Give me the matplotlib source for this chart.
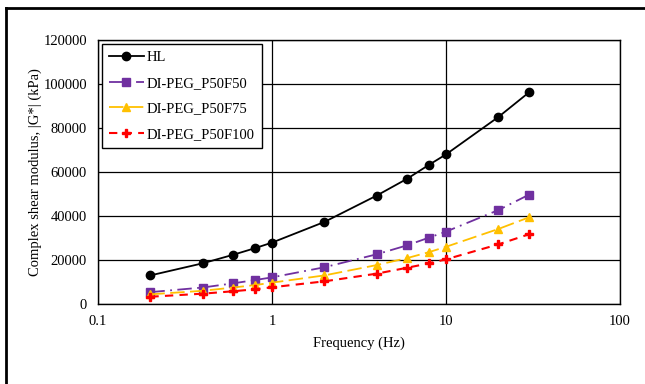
import matplotlib
matplotlib.use("Agg")
import matplotlib.pyplot as plt
from matplotlib.lines import Line2D

freq = [0.2, 0.4, 0.6, 0.8, 1, 2, 4, 6, 8, 10, 20, 30]
hl = [13000, 18500, 22400, 25400, 27900, 37300, 49300, 57000, 63300, 68000, 85000, 96200]
p50f50 = [5400, 7500, 9400, 10900, 12100, 16700, 22600, 26700, 30200, 32900, 42700, 49700]
p50f75 = [4400, 6000, 7500, 8600, 9700, 13000, 17700, 20900, 23600, 26000, 34100, 39400]
p50f100 = [3300, 4700, 5800, 6700, 7600, 10300, 13800, 16500, 18500, 20300, 27100, 31700]

labels = ["HL", "DI-PEG_P50F50", "DI-PEG_P50F75", "DI-PEG_P50F100"]
yticks = [0, 20000, 40000, 60000, 80000, 100000, 120000]
xticks = [0.1, 1, 10, 100]
xticklabels = ["0.1", "1", "10", "100"]

plt.rcParams['font.family'] = ['Liberation Serif', 'DejaVu Serif']
fs = 10.5

fig = plt.figure(figsize=(6.45, 3.84), dpi=100)
ax = fig.add_axes([98/645, 1-304/384, (620-98)/645, (304-40)/384])

ax.plot(freq, hl, color='black', marker='o', markersize=6, lw=1.3, label=labels[0])
ax.plot(freq, p50f50, color='#7030A0', marker='s', markersize=6, lw=1.3,
        dashes=(8, 3, 1, 3), label=labels[1])
ax.plot(freq, p50f75, color='#FFC000', marker='^', markersize=6, lw=1.3,
        dashes=(8, 3), label=labels[2])
ax.plot(freq, p50f100, color='#FF0000', marker='P', markersize=6, lw=1.5,
        dashes=(4, 3), label=labels[3])

ax.set_xscale('log')
ax.set_xlim(0.1, 100)
ax.set_ylim(0, 120000)
ax.set_yticks(yticks)
ax.set_yticklabels([str(v) for v in yticks], fontsize=fs)
ax.set_xticks(xticks)
ax.set_xticklabels(xticklabels, fontsize=fs)
ax.xaxis.set_minor_locator(matplotlib.ticker.NullLocator())
ax.tick_params(length=0, pad=8)
ax.grid(True, which='major', color='black', lw=0.9)
ax.set_axisbelow(True)
for s in ax.spines.values():
    s.set_color('black')
    s.set_linewidth(1.0)

ax.set_xlabel("Frequency (Hz)", fontsize=fs, labelpad=6)
ax.set_ylabel("Complex shear modulus, |G*| (kPa)", fontsize=fs, labelpad=1)

leg = ax.legend(loc='upper left', fontsize=fs, frameon=True, fancybox=False,
                edgecolor='black', framealpha=1, borderaxespad=0.25,
                handlelength=2.4, handletextpad=0.2, labelspacing=0.85,
                borderpad=0.5)
leg.get_frame().set_linewidth(1.0)

# outer border (top and left visible)
fig.add_artist(Line2D([6/645, 1.0], [1-8/384, 1-8/384], color='black', lw=2.0,
                      transform=fig.transFigure))
fig.add_artist(Line2D([6/645, 6/645], [0, 1-8/384], color='black', lw=2.0,
                      transform=fig.transFigure))

fig.savefig("out.png", dpi=100)
